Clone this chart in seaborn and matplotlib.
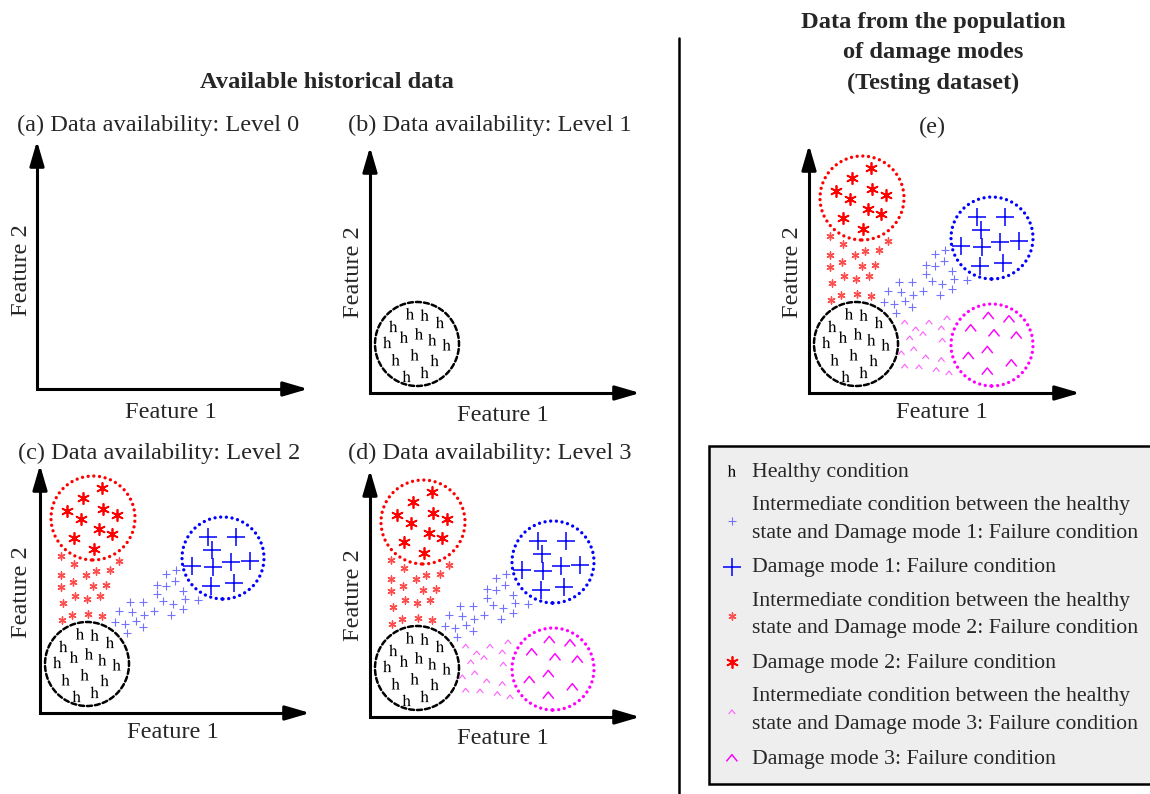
import matplotlib
matplotlib.use("Agg")
import matplotlib.pyplot as plt
import seaborn as sns
from matplotlib.patches import Circle
from matplotlib.lines import Line2D
from matplotlib.path import Path

# ---------------- data (feature-space coordinates, schematic units) ----------------
healthy_x = [40, 54.7, 70, 23.3, 34, 49, 62.3, 76.7, 17.3, 25.7, 44.7, 64.7, 36.7, 54.7]
healthy_y = [79.3, 78, 70.7, 66.7, 56, 59.3, 53.3, 48.3, 50.7, 33.3, 38.3, 32.7, 16.7, 20.7]

dm1_int_x = [125.7, 136, 116.7, 125.7, 135, 116.7, 123.3, 132.7, 143.3, 145, 158.3, 143.3,
             90, 103.3, 79, 91.7, 104, 114, 130.7, 75, 85, 96, 103.3, 86.7]
dm1_int_y = [139, 143.3, 127.7, 126.7, 131.7, 119.3, 111.7, 109.3, 121.7, 114, 112.7, 104,
             110.7, 110.7, 101.7, 101, 98.3, 101.7, 98.3, 90.7, 89, 91.7, 86, 80]
dm1_x = [168, 195.7, 172.3, 152.3, 173.3, 190.7, 210, 170.7, 194]
dm1_y = [176, 176, 163.3, 147.3, 146, 150.7, 151.7, 127.3, 130]

dm2_int_x = [20.7, 34, 79, 21.3, 45.7, 55.7, 70, 20.7, 32.7, 53.3, 66.3, 35, 47.3, 59.7,
             23.3, 22.3, 32.3, 48, 62.3]
dm2_int_y = [156.7, 149.3, 152.3, 138.3, 138.3, 141.7, 142.7, 126, 131, 126.7, 128.3, 116.7,
             114, 116.7, 110, 93.3, 97.7, 99.3, 97.3]
dm2_x = [62.3, 43.3, 27.3, 63, 77.3, 41.3, 59, 72.3, 34, 54]
dm2_y = [225, 215, 201.7, 204, 198.3, 194, 184, 179.3, 175, 164]

dm3_int_x = [95.7, 106.7, 120, 132.3, 138, 100.7, 114, 133.3, 92.3, 104.7, 116.7, 132.3,
             95.7, 110, 127.3, 140]
dm3_int_y = [70.7, 64, 70.7, 65, 75, 55, 59.3, 52.7, 40, 44, 36, 33.3, 26.7, 26, 23.3, 20]
dm3_x = [179.3, 200, 161.7, 185, 207.3, 178.3, 159.3, 202.3, 178.3]
dm3_y = [77.3, 74, 65, 60, 57.7, 43.3, 37.3, 30, 21.7]

labels = [
    "Healthy condition",
    "Intermediate condition between the healthy\nstate and Damage mode 1: Failure condition",
    "Damage mode 1: Failure condition",
    "Intermediate condition between the healthy\nstate and Damage mode 2: Failure condition",
    "Damage mode 2: Failure condition",
    "Intermediate condition between the healthy\nstate and Damage mode 3: Failure condition",
    "Damage mode 3: Failure condition",
]
panel_titles = ["(a) Data availability: Level 0", "(b) Data availability: Level 1",
                "(c) Data availability: Level 2", "(d) Data availability: Level 3", "(e)"]

# ---------------- style ----------------
sns.set_theme(style="white")
plt.rcParams["font.family"] = ["Liberation Serif", "DejaVu Serif"]
plt.rcParams["mathtext.fontset"] = "stix"

W, H = 1150, 794
fig = plt.figure(figsize=(W / 100, H / 100), dpi=100)
fig.patch.set_facecolor("white")
FS = 17.6   # panel texts / headings
LFS = 15.7  # legend


def fx(x):
    return x / W


def fy(y):
    return 1 - y / H


PAD = 25
DOT = (0, (0.01, 1.7))
CARET = Path([(-1.0, -0.62), (0.0, 0.62), (1.0, -0.62)],
             [Path.MOVETO, Path.LINETO, Path.LINETO])

styles = {
    "h": dict(marker=r"$\mathrm{h}$", s=70, color="black", linewidth=0, fc=None),
    "i1": dict(marker="+", s=40, color="#7373ff", linewidth=0.8, fc=None),
    "d1": dict(marker="+", s=170, color="#0000ff", linewidth=1.1, fc=None),
    "i2": dict(marker=(6, 2, 0), s=26, color="#ff4d4d", linewidth=1.0, fc=None),
    "d2": dict(marker=(6, 2, 0), s=66, color="#ff0000", linewidth=1.25, fc=None),
    "i3": dict(marker=CARET, s=22, color="#ff5cff", linewidth=0.8, fc="none"),
    "d3": dict(marker=CARET, s=62, color="#ff00ff", linewidth=1.05, fc="none"),
}
circles = {
    "h": dict(c=(47, 49), r=42, color="black", ls=(0, (2.0, 1.2)), lw=1.8),
    "d1": dict(c=(183, 155), r=41, color="#0000ff", ls=DOT, lw=2.4),
    "d2": dict(c=(53, 195), r=42, color="#ff0000", ls=DOT, lw=2.4),
    "d3": dict(c=(183, 48), r=41, color="#ff00ff", ls=DOT, lw=2.4),
}
series = {
    "h": (healthy_x, healthy_y), "i1": (dm1_int_x, dm1_int_y), "d1": (dm1_x, dm1_y),
    "i2": (dm2_int_x, dm2_int_y), "d2": (dm2_x, dm2_y),
    "i3": (dm3_int_x, dm3_int_y), "d3": (dm3_x, dm3_y),
}
order = ["h", "i1", "d1", "i2", "d2", "i3", "d3"]


def make_panel(ox, oy, Lx, Ly, keys):
    ax = fig.add_axes([fx(ox - PAD), fy(oy + PAD), (Lx + 2 * PAD) / W, (Ly + 2 * PAD) / H])
    ax.set_xlim(-PAD, Lx + PAD)
    ax.set_ylim(-PAD, Ly + PAD)
    ax.axis("off")
    for ck in ["h", "d1", "d2", "d3"]:
        if ck in keys:
            c = circles[ck]
            ax.add_patch(Circle(c["c"], c["r"], fill=False, edgecolor=c["color"],
                                linestyle=c["ls"], linewidth=c["lw"], capstyle="round"))
    handles = {}
    for k in keys:
        x, y = series[k]
        st = styles[k]
        kw = dict(marker=st["marker"], s=st["s"], color=st["color"],
                  linewidth=st["linewidth"], clip_on=False, legend=False, zorder=3)
        if st["fc"] == "none":
            kw["facecolor"] = "none"
            kw["edgecolor"] = st["color"]
        else:
            kw["edgecolor"] = st["color"] if st["linewidth"] else "none"
        sns.scatterplot(x=x, y=y, ax=ax, **kw)
        handles[k] = ax.collections[-1]
    ax.plot([0, 0, Lx - 10], [Ly - 10, 0, 0], color="black", lw=2.2,
            solid_joinstyle="miter", solid_capstyle="projecting")
    for tip in [(Lx, 0), (0, Ly)]:
        start = (tip[0] * 0.9, tip[1] * 0.9)
        ax.annotate("", xy=tip, xytext=start,
                    arrowprops=dict(arrowstyle="-|>,head_length=0.75,head_width=0.22",
                                    color="black", lw=2.2, shrinkA=0, shrinkB=0,
                                    mutation_scale=20))
    return ax, handles


all_keys = order
panels = [
    (37, 389, 271, 248, [], panel_titles[0], (17, 125), "left", (171, 412), (22, 270)),
    (370, 393, 270, 246, ["h"], panel_titles[1], (348, 125), "left", (503, 415), (353, 272)),
    (40, 713, 270, 248, ["h", "i1", "d1", "i2", "d2"], panel_titles[2], (18, 453), "left", (173, 733), (22, 592)),
    (370, 717, 270, 247, all_keys, panel_titles[3], (348, 453), "left", (503, 738), (353, 595)),
    (809, 393, 271, 248, all_keys, panel_titles[4], (932, 127), "center", (942, 413), (793, 272)),
]

legend_handles = None
for ox, oy, Lx, Ly, keys, title, tpos, ha, f1, f2 in panels:
    ax, hd = make_panel(ox, oy, Lx, Ly, keys)
    fig.text(fx(tpos[0]), fy(tpos[1]), title, ha=ha, va="center", fontsize=FS)
    fig.text(fx(f1[0]), fy(f1[1]), "Feature 1", ha="center", va="center", fontsize=FS)
    fig.text(fx(f2[0]), fy(f2[1]), "Feature 2", ha="center", va="center", fontsize=FS, rotation=90)
    if len(keys) == 7:
        legend_handles = [hd[k] for k in order]

# headings
fig.text(fx(327), fy(83), "Available historical data", ha="center", va="center",
         fontsize=FS, fontweight="bold")
fig.text(fx(933), fy(53), "Data from the population\nof damage modes\n(Testing dataset)",
         ha="center", va="center", fontsize=FS, fontweight="bold", linespacing=1.56)

# divider line
fig.add_artist(Line2D([fx(679), fx(679)], [fy(38), fy(794)], color="black", lw=1.8))

# legend
leg = fig.legend(legend_handles, labels, loc="upper left", bbox_to_anchor=(fx(709), fy(446)),
                 fontsize=LFS, frameon=True, fancybox=False, shadow=False, borderpad=0.7,
                 handlelength=0.7, handletextpad=0.55, labelspacing=0.66, borderaxespad=0,
                 scatterpoints=1)
for t in leg.get_texts():
    t.set_linespacing(1.62)
fr = leg.get_frame()
fr.set_facecolor("#eeeeee")
fr.set_edgecolor("black")
fr.set_linewidth(1.8)
fr.set_alpha(1)

fig.savefig("out.png", dpi=100, facecolor="white")
